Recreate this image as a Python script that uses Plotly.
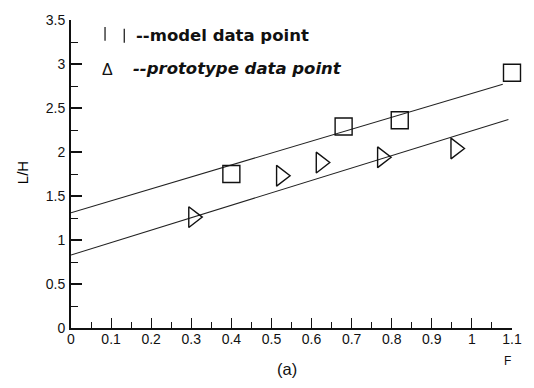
import plotly.graph_objects as go

# Model and prototype measurements: Froude number F vs. L/H
model_F = [0.40, 0.68, 0.82, 1.10]
model_LH = [1.75, 2.29, 2.36, 2.90]

proto_F = [0.305, 0.524, 0.623, 0.776, 0.959]
proto_LH = [1.26, 1.73, 1.88, 1.94, 2.04]

# Fitted trend lines (end points)
model_fit_F = [0.0, 1.077]
model_fit_LH = [1.31, 2.77]
proto_fit_F = [0.0, 1.091]
proto_fit_LH = [0.83, 2.37]

x_ticks = [0, 0.1, 0.2, 0.3, 0.4, 0.5, 0.6, 0.7, 0.8, 0.9, 1, 1.1]
x_tick_text = ["0", "0.1", "0.2", "0.3", "0.4", "0.5", "0.6", "0.7", "0.8", "0.9", "1", "1.1"]
y_ticks = [0, 0.5, 1, 1.5, 2, 2.5, 3, 3.5]
y_tick_text = ["0", "0.5", "1", "1.5", "2", "2.5", "3", "3.5"]

FONT = "Liberation Sans, Arial, sans-serif"
KEY_FONT = "DejaVu Sans, sans-serif"

fig = go.Figure()

fig.add_trace(go.Scatter(x=model_fit_F, y=model_fit_LH, mode="lines",
                         line=dict(color="#222", width=1.1), showlegend=False,
                         hoverinfo="skip"))
fig.add_trace(go.Scatter(x=proto_fit_F, y=proto_fit_LH, mode="lines",
                         line=dict(color="#222", width=1.1), showlegend=False,
                         hoverinfo="skip"))
fig.add_trace(go.Scatter(x=model_F, y=model_LH, mode="markers", cliponaxis=False,
                         marker=dict(symbol="square-open", size=17, color="#111",
                                     line=dict(width=1.4, color="#111")),
                         showlegend=False))
fig.add_trace(go.Scatter(x=proto_F, y=proto_LH, mode="markers", cliponaxis=False,
                         marker=dict(symbol="triangle-right-open", size=18, color="#111",
                                     line=dict(width=1.4, color="#111")),
                         showlegend=False))

W, H = 534, 388
L, R, T, B = 71, 16, 15, 60
pw, ph = W - L - R, H - T - B


def px(xp):
    return (xp - L) / pw


def py(yp):
    return (H - B - yp) / ph


# Key drawn inside the plot area
shapes = [
    dict(type="line", xref="paper", yref="paper", x0=px(105.5), x1=px(105.5), y0=py(22), y1=py(36),
         line=dict(color="#222", width=1.3)),
    dict(type="line", xref="paper", yref="paper", x0=px(125), x1=px(125), y0=py(24), y1=py(38),
         line=dict(color="#222", width=1.3)),
]

annotations = [
    dict(text="<b>--model data point</b>", x=px(135), y=py(31), xref="paper", yref="paper",
         xanchor="left", yanchor="middle", showarrow=False,
         font=dict(family=KEY_FONT, size=16.5, color="#111")),
    dict(text="Δ", x=px(108.5), y=py(65), xref="paper", yref="paper",
         xanchor="center", yanchor="middle", showarrow=False,
         font=dict(family=FONT, size=16, color="#111")),
    dict(text="<b><i>--prototype data point</i></b>", x=px(132), y=py(64.5), xref="paper", yref="paper",
         xanchor="left", yanchor="middle", showarrow=False,
         font=dict(family=KEY_FONT, size=16.5, color="#111")),
    dict(text="L/H", x=px(22), y=py(170), xref="paper", yref="paper", textangle=-90,
         xanchor="center", yanchor="middle", showarrow=False,
         font=dict(family=FONT, size=15, color="#000")),
    dict(text="F", x=px(513), y=py(362), xref="paper", yref="paper",
         xanchor="center", yanchor="middle", showarrow=False,
         font=dict(family=FONT, size=12, color="#111")),
    dict(text="(a)", x=px(290), y=py(370), xref="paper", yref="paper",
         xanchor="center", yanchor="middle", showarrow=False,
         font=dict(family=FONT, size=16.5, color="#111")),
]

fig.update_layout(
    width=W, height=H,
    margin=dict(l=L, r=R, t=T, b=B, pad=0),
    paper_bgcolor="white", plot_bgcolor="white",
    font=dict(family=FONT, size=14, color="#111"),
    showlegend=False,
    shapes=shapes,
    annotations=annotations,
    xaxis=dict(range=[0, 1.1], tickmode="array", tickvals=x_ticks, ticktext=x_tick_text,
               ticks="inside", ticklen=10, tickwidth=1.4, tickcolor="#111",
               showline=True, linecolor="#111", linewidth=2, mirror=False,
               showgrid=False, zeroline=False, ticklabelstandoff=-3,
               tickfont=dict(size=14),
               minor=dict(ticks="inside", ticklen=6, tickwidth=1.2, tickcolor="#111",
                          dtick=0.05, tick0=0, showgrid=False)),
    yaxis=dict(range=[0, 3.5], tickmode="array", tickvals=y_ticks, ticktext=y_tick_text,
               ticks="inside", ticklen=11, tickwidth=1.6, tickcolor="#111",
               showline=True, linecolor="#111", linewidth=2, mirror=False,
               showgrid=False, zeroline=False, ticklabelstandoff=1,
               tickfont=dict(size=14),
               minor=dict(ticks="inside", ticklen=7, tickwidth=1.2, tickcolor="#111",
                          dtick=0.25, tick0=0, showgrid=False)),
)

fig.write_html("out.html")
